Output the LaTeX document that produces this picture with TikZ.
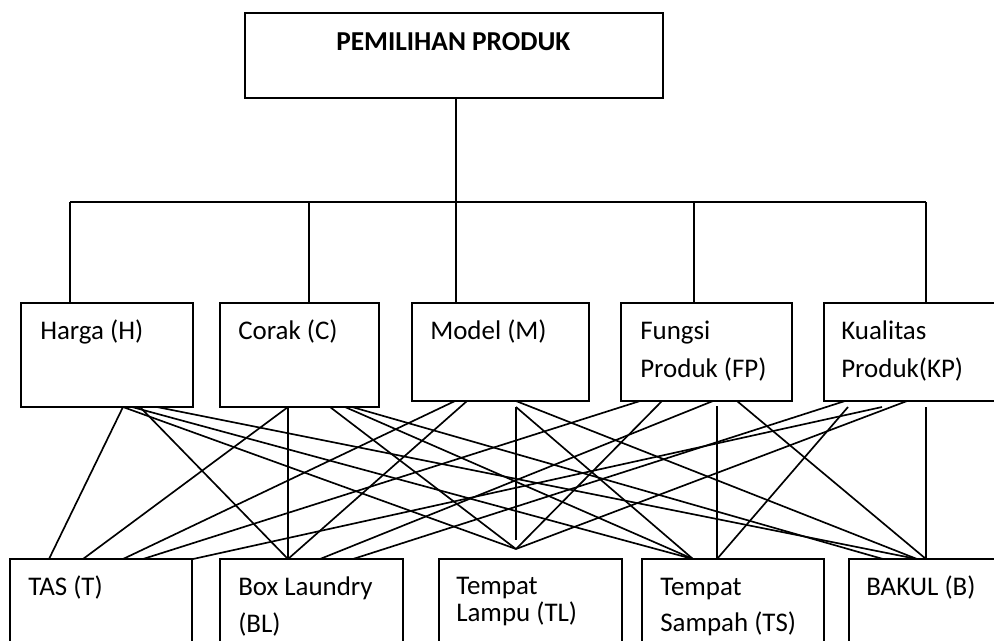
\documentclass[tikz,border=0pt]{standalone}
\usepackage{fontspec}
\setmainfont{Carlito}
\begin{document}
\begin{tikzpicture}[x=0.75pt,y=-0.75pt,
  box/.style={draw,line width=1.3pt,inner sep=0pt,outer sep=0pt,anchor=north west},
  lbl/.style={anchor=base west,inner sep=0pt,font=\fontsize{20.2}{28}\selectfont},
  ln/.style={line width=1.25pt}]
\clip (0,0) rectangle (994,640);
\fill[white] (0,0) rectangle (994,640);
% boxes
\node[box,minimum width=313.5pt,minimum height=63.75pt] (top) at (245,13) {};
\node[box,minimum width=129pt,minimum height=78pt] (H) at (21,303) {};
\node[box,minimum width=119.25pt,minimum height=78pt] (C) at (220,303) {};
\node[box,minimum width=132.75pt,minimum height=73.5pt] (M) at (412,303) {};
\node[box,minimum width=128.25pt,minimum height=73.5pt] (F) at (621,303) {};
\node[box,minimum width=132pt,minimum height=73.5pt] (K) at (824,303) {};
\node[box,minimum width=136.5pt,minimum height=75.75pt] (T) at (10,559) {};
\node[box,minimum width=137.25pt,minimum height=75.75pt] (BL) at (220,559) {};
\node[box,minimum width=137.25pt,minimum height=75.75pt] (TL) at (439,559) {};
\node[box,minimum width=136.5pt,minimum height=75.75pt] (TS) at (642,559) {};
\node[box,minimum width=113.25pt,minimum height=75.75pt] (B) at (849,559) {};
% labels
\node[lbl,font=\fontsize{20.5}{28}\selectfont\bfseries] (tTop) at (336,50.5) {PEMILIHAN PRODUK};
\node[lbl] (tH) at (40,339) {Harga (H)};
\node[lbl] (tC) at (238,339) {Corak (C)};
\node[lbl] (tM) at (430,339) {Model (M)};
\node[lbl] (tF1) at (640,339) {Fungsi};
\node[lbl] (tF2) at (640,377) {Produk (FP)};
\node[lbl] (tK1) at (841,339) {Kualitas};
\node[lbl] (tK2) at (841,377) {Produk(KP)};
\node[lbl] (tT) at (28,595) {TAS (T)};
\node[lbl] (tBL1) at (238,595) {Box Laundry};
\node[lbl] (tBL2) at (238,632) {(BL)};
\node[lbl] (tTL1) at (456,594) {Tempat};
\node[lbl] (tTL2) at (456,621) {Lampu (TL)};
\node[lbl] (tTS1) at (660,595) {Tempat};
\node[lbl] (tTS2) at (660,631) {Sampah (TS)};
\node[lbl] (tB) at (866,595) {BAKUL (B)};
% tree
\coordinate (bar) at (455.7,202);
\coordinate (b1) at (70,202);
\coordinate (b2) at (308.7,202);
\coordinate (b3) at (455.7,202);
\coordinate (b4) at (694.3,202);
\coordinate (b5) at (925.7,202);
\draw[ln] (bar |- top.south) -- (bar);
\draw[ln] (b1) -- (b5);
\draw[ln] (b1) -- (b1 |- H.north);
\draw[ln] (b2) -- (b2 |- C.north);
\draw[ln] (b3) -- (b3 |- M.north);
\draw[ln] (b4) -- (b4 |- F.north);
\draw[ln] (b5) -- (b5 |- K.north);
% start points
\coordinate (h1) at (123,407);
\coordinate (h2) at (132,407);
\coordinate (h3) at (140,407);
\coordinate (h4) at (157,407);
\coordinate (c1) at (288,407);
\coordinate (c2) at (330,407);
\coordinate (c3) at (345,407);
\coordinate (c4) at (352,407);
\coordinate (m1) at (455,401);
\coordinate (m2) at (467,401);
\coordinate (m3) at (516,407);
\coordinate (m4) at (516,401);
\coordinate (f1) at (640,401);
\coordinate (f2) at (662,401);
\coordinate (f3) at (713,401);
\coordinate (f4) at (717,406);
\coordinate (f5) at (737,401);
\coordinate (k1) at (845,401);
\coordinate (k2) at (848,407);
\coordinate (k3) at (882,407);
\coordinate (k4) at (907,401);
\coordinate (k5) at (926,407);
% end points
\coordinate (t1) at (49,559);
\coordinate (t2) at (83,559);
\coordinate (t3) at (123,559);
\coordinate (t4) at (143,559);
\coordinate (t5) at (193,559);
\coordinate (l1) at (288,559);
\coordinate (l2) at (320,559);
\coordinate (l3) at (353,559);
\coordinate (p1) at (516,549);
\coordinate (p2) at (516,540);
\coordinate (s1) at (693,559);
\coordinate (s2) at (717,559);
\coordinate (q1) at (883,559);
\coordinate (q2) at (917,559);
\coordinate (q3) at (926,559);
% connectors
\draw[ln] (h1) -- (t1);
\draw[ln] (h3) -- (l1);
\draw[ln] (h1) -- (p1);
\draw[ln] (h2) -- (s1);
\draw[ln] (h4) -- (q2);
\draw[ln] (c1) -- (t2);
\draw[ln] (c1) -- (l1);
\draw[ln] (c2) -- (p1);
\draw[ln] (c3) -- (s1);
\draw[ln] (c4) -- (q1);
\draw[ln] (m1) -- (t3);
\draw[ln] (m2) -- (l1);
\draw[ln] (m3) -- (p2);
\draw[ln] (m3) -- (s1);
\draw[ln] (m4) -- (q2);
\draw[ln] (f1) -- (t4);
\draw[ln] (f3) -- (l2);
\draw[ln] (f2) -- (p1);
\draw[ln] (f4) -- (s2);
\draw[ln] (f5) -- (q3);
\draw[ln] (k3) -- (t5);
\draw[ln] (k1) -- (l3);
\draw[ln] (k4) -- (p1);
\draw[ln] (k2) -- (s2);
\draw[ln] (k5) -- (q3);
\end{tikzpicture}
\end{document}
